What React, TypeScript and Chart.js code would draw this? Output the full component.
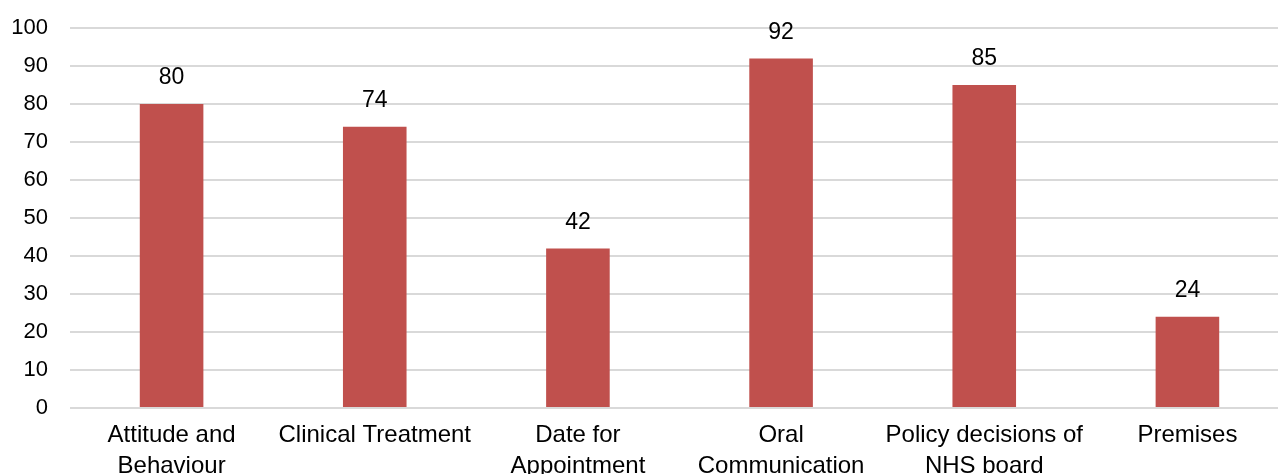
import React, { useEffect, useRef } from "react";
import { Chart, registerables } from "chart.js";

Chart.register(...registerables);

const categories: string[][] = [
  ["Attitude and", "Behaviour"],
  ["Clinical Treatment"],
  ["Date for", "Appointment"],
  ["Oral", "Communication"],
  ["Policy decisions of", "NHS board"],
  ["Premises"],
];
const values: number[] = [80, 74, 42, 92, 85, 24];
const yTicks: number[] = [0, 10, 20, 30, 40, 50, 60, 70, 80, 90, 100];

const FONT = "'Liberation Sans', Arial, sans-serif";

// Writes each bar's value just above it
const valueLabels = {
  id: "valueLabels",
  afterDatasetsDraw(chart: any) {
    const ctx = chart.ctx;
    const meta = chart.getDatasetMeta(0);
    ctx.save();
    ctx.font = `23px ${FONT}`;
    ctx.fillStyle = "#000000";
    ctx.textAlign = "center";
    ctx.textBaseline = "middle";
    meta.data.forEach((bar: any, i: number) => {
      ctx.fillText(String(values[i]), bar.x, bar.y - 26);
    });
    ctx.restore();
  },
};

export default function App() {
  const canvasRef = useRef<HTMLCanvasElement | null>(null);

  useEffect(() => {
    if (!canvasRef.current) return;
    const chart = new Chart(canvasRef.current, {
      type: "bar",
      data: {
        labels: categories,
        datasets: [
          {
            data: values,
            backgroundColor: "#C0504D",
            barPercentage: 0.313,
            categoryPercentage: 1,
          },
        ],
      },
      options: {
        animation: false,
        responsive: true,
        maintainAspectRatio: false,
        layout: { padding: { top: 28, left: 0, right: 0, bottom: 0 } },
        plugins: {
          legend: { display: false },
          tooltip: { enabled: false },
        },
        scales: {
          x: {
            grid: { display: false, drawTicks: false },
            border: { display: false },
            ticks: {
              color: "#000000",
              font: { family: FONT, size: 24, lineHeight: 1.29 },
              padding: 12,
              maxRotation: 0,
              autoSkip: false,
            },
            afterFit: (scale: any) => {
              scale.height = 74;
            },
          },
          y: {
            min: 0,
            max: 100,
            afterBuildTicks: (scale: any) => {
              scale.ticks = yTicks.map((v) => ({ value: v }));
            },
            grid: {
              color: "#D9D9D9",
              lineWidth: 2,
              drawTicks: false,
            },
            border: { display: false },
            ticks: {
              color: "#000000",
              font: { family: FONT, size: 22 },
              padding: 22,
            },
            afterFit: (scale: any) => {
              scale.width = 70;
              scale.paddingTop = 0;
              scale.paddingBottom = 0;
            },
          },
        },
      },
      plugins: [valueLabels],
    });
    return () => chart.destroy();
  }, []);

  return (
    <div
      style={{
        position: "fixed",
        left: 0,
        top: 0,
        width: 1278,
        height: 474,
        overflow: "hidden",
        background: "#ffffff",
      }}
    >
      <div style={{ position: "relative", width: 1289, height: 482 }}>
        <canvas ref={canvasRef} />
      </div>
    </div>
  );
}
